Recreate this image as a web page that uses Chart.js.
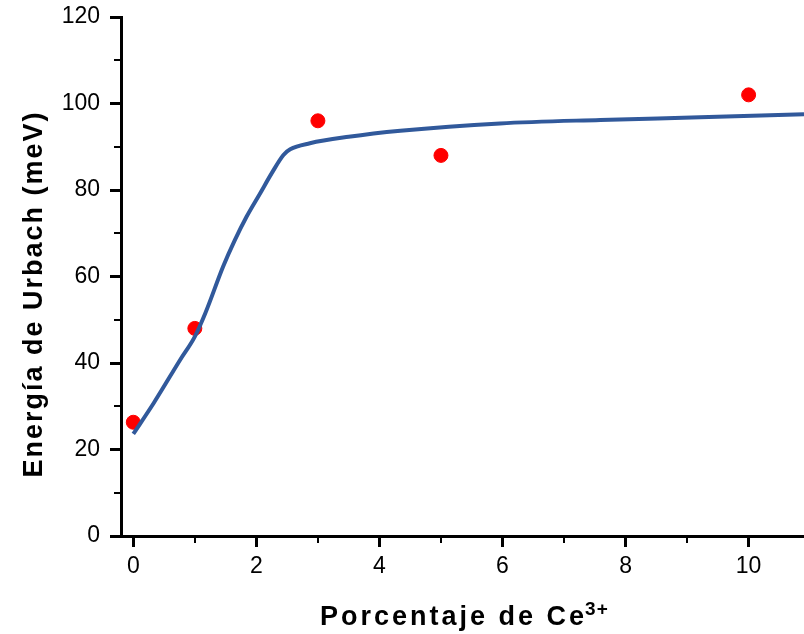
<!DOCTYPE html>
<html>
<head>
<meta charset="utf-8">
<script src="https://cdn.jsdelivr.net/npm/chart.js@4/dist/chart.umd.min.js"></script>
<style>
  html, body { margin: 0; padding: 0; background: #fff; overflow: hidden; }
  #wrap { width: 804px; height: 634px; }
  canvas { display: block; }
</style>
</head>
<body>
<div id="wrap"><canvas id="urbach" width="804" height="634"></canvas></div>
<script>
// Measured Urbach energies vs Ce3+ content
const porcentajeCe = [0, 1, 3, 5, 10];
const energiaUrbach = [26.3, 48, 96, 88, 102];

// Fitted curve, read point by point
const ajusteX = [0, 0.33, 0.76, 1, 1.17, 1.46, 1.65, 1.84, 2.06, 2.25, 2.44, 2.55, 2.87, 3.5, 4.34, 5.96, 7.59, 9.21, 10.9];
const ajusteY = [23.6, 30.7, 40.7, 46.1, 51.5, 62.3, 68.4, 73.8, 79.2, 83.9, 88.1, 89.4, 90.8, 92.3, 93.7, 95.4, 96.2, 96.8, 97.5];

// Axis ranges and tick spacing
const xRange = [-0.2, 10.9];
const yRange = [0, 120];
const xMajor = 2, xMinor = 1;
const yMajor = 20, yMinor = 10;

const FONT = "'Liberation Sans', Arial, sans-serif";

function toPoints(xs, ys) {
    return xs.map((x, i) => ({ x: x, y: ys[i] }));
}

// minor ticks (shorter, unlabelled) drawn by hand after the chart
const minorTicks = {
    id: "minorTicks",
    afterDraw(chart) {
        const ctx = chart.ctx;
        const xs = chart.scales.x, ys = chart.scales.y;
        const area = chart.chartArea;
        ctx.save();
        ctx.strokeStyle = "#000";
        ctx.lineWidth = 2;
        ctx.beginPath();
        for (let v = Math.ceil(xRange[0]); v <= xRange[1]; v += xMinor) {
            if (v % xMajor === 0) continue;
            const px = Math.round(xs.getPixelForValue(v));
            ctx.moveTo(px, area.bottom);
            ctx.lineTo(px, area.bottom + 7);
        }
        for (let v = yRange[0]; v <= yRange[1]; v += yMinor) {
            if (v % yMajor === 0) continue;
            const py = Math.round(ys.getPixelForValue(v));
            ctx.moveTo(area.left, py);
            ctx.lineTo(area.left - 7, py);
        }
        ctx.stroke();
        ctx.restore();
    },
};

// axis titles: letter-spaced bold text, with a superscript on Ce
const axisTitles = {
    id: "axisTitles",
    afterDraw(chart) {
        const ctx = chart.ctx;
        ctx.save();
        ctx.fillStyle = "#000";
        ctx.textBaseline = "alphabetic";

        // x title
        ctx.font = "bold 27px " + FONT;
        ctx.letterSpacing = "3px";
        ctx.textAlign = "left";
        const main = "Porcentaje de Ce";
        ctx.fillText(main, 320, 625);
        const w = ctx.measureText(main).width;
        ctx.font = "bold 19px " + FONT;
        ctx.letterSpacing = "1px";
        ctx.fillText("3+", 320 + w - 2, 615);

        // y title
        ctx.translate(42, 294);
        ctx.rotate(-Math.PI / 2);
        ctx.font = "bold 27px " + FONT;
        ctx.letterSpacing = "2px";
        ctx.textAlign = "center";
        ctx.fillText("Energía de Urbach (meV)", 0, 0);
        ctx.restore();
    },
};

new Chart(document.getElementById("urbach"), {
    type: "scatter",
    data: {
        datasets: [
            {
                label: "Ajuste",
                data: toPoints(ajusteX, ajusteY),
                showLine: true,
                borderColor: "#31599b",
                borderWidth: 4,
                pointRadius: 0,
                cubicInterpolationMode: "monotone",
                fill: false,
            },
            {
                label: "Experimental",
                data: toPoints(porcentajeCe, energiaUrbach),
                backgroundColor: "#ff0000",
                borderColor: "#ff0000",
                borderWidth: 1,
                pointRadius: 7,
            },
        ],
    },
    options: {
        responsive: false,
        animation: false,
        layout: {
            autoPadding: false,
            padding: { top: 17, right: 0, left: 0, bottom: 0 },
        },
        plugins: {
            legend: { display: false },
            tooltip: { enabled: false },
        },
        scales: {
            x: {
                type: "linear",
                min: xRange[0],
                max: xRange[1],
                afterFit(scale) {
                    scale.height = 98;
                    scale.paddingLeft = 0;
                    scale.paddingRight = 0;
                },
                border: { display: true, color: "#000", width: 3 },
                grid: {
                    drawOnChartArea: false,
                    drawTicks: true,
                    tickLength: 11,
                    tickWidth: 3,
                    tickColor: "#000",
                },
                ticks: {
                    stepSize: xMajor,
                    includeBounds: false,
                    color: "#000",
                    padding: 6,
                    maxRotation: 0,
                    font: { family: FONT, size: 23 },
                },
            },
            y: {
                type: "linear",
                min: yRange[0],
                max: yRange[1],
                afterFit(scale) {
                    scale.width = 121;
                    scale.paddingTop = 0;
                    scale.paddingBottom = 0;
                },
                border: { display: true, color: "#000", width: 3 },
                grid: {
                    drawOnChartArea: false,
                    drawTicks: true,
                    tickLength: 11,
                    tickWidth: 3,
                    tickColor: "#000",
                },
                ticks: {
                    stepSize: yMajor,
                    color: "#000",
                    padding: 10,
                    font: { family: FONT, size: 23 },
                },
            },
        },
    },
    plugins: [minorTicks, axisTitles],
});
</script>
</body>
</html>
